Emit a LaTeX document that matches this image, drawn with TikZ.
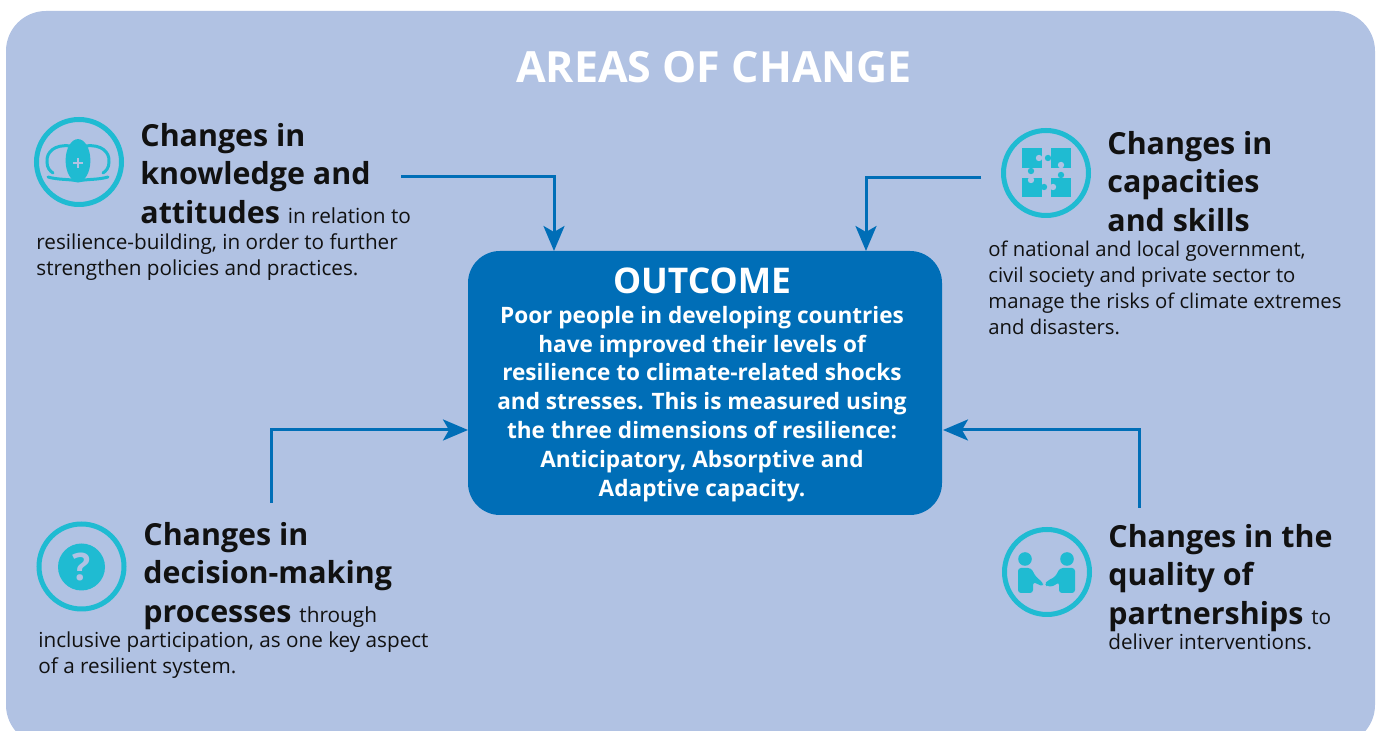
\documentclass[tikz,border=0pt]{standalone}
\usepackage{fontspec}
\setmainfont{Open Sans}
\usepackage{color}
\usetikzlibrary{calc}
\usetikzlibrary{arrows.meta}
\definecolor{panelblue}{HTML}{B1C2E3}
\definecolor{boxblue}{HTML}{006EB7}
\definecolor{icon}{HTML}{1FBBD2}
\definecolor{inktext}{HTML}{111111}
\tikzset{
	head/.style={anchor=north west, inner sep=0pt, align=left, text=inktext, font=\fontsize{15.2}{19.2}\selectfont\bfseries},
	body/.style={anchor=north west, inner sep=0pt, align=left, text=inktext, font=\fontsize{10.35}{13}\selectfont},
	ring/.style={circle, draw=icon, line width=2.5pt, minimum size=42.5pt, inner sep=0pt},
	link/.style={draw=boxblue, line width=1.5pt, -{Stealth[length=12.5pt, width=10.5pt, inset=3pt]}},
}
\newcommand{\runin}[1]{{\fontsize{10.4}{13}\selectfont\mdseries #1}}
\begin{document}
\begin{tikzpicture}[x=0.5pt,y=-0.5pt]
	\clip (0,0) rectangle (1378,731);
	\fill[panelblue, rounded corners=20pt] (6,11) rectangle (1375,745);

	\node[text=white, font=\fontsize{21.5}{24}\selectfont\bfseries] (title) at (714,67) {AREAS OF CHANGE};

	% outcome box
	\node[fill=boxblue, rounded corners=16pt, minimum width=237pt, minimum height=132pt, inner sep=0pt] (outcome) at (705,383) {};
	\node[text=white, font=\fontsize{17.7}{20}\selectfont\bfseries] (outtitle) at (702,281) {OUTCOME};
	\node[text=white, align=center, font=\fontsize{11.3}{14.4}\selectfont\bfseries, anchor=north] (outtext) at (702,299) {Poor people in developing countries\\have improved their levels of\\resilience to climate-related shocks\\and stresses. This is measured using\\the three dimensions of resilience:\\Anticipatory, Absorptive and\\Adaptive capacity.};

	% text blocks
	\node[head] (know) at (140,123) {Changes in\\knowledge and\\attitudes \runin{in relation to}};
	\node[body] (knowtext) at (36,233) {resilience-building, in order to further\\strengthen policies and practices.};
	\node[head] (skill) at (1107,131) {Changes in\\capacities\\and skills};
	\node[body, font=\fontsize{10.15}{13}\selectfont] (skilltext) at (988,241) {of national and local government,\\civil society and private sector to\\manage the risks of climate extremes\\and disasters.};
	\node[head] (decide) at (143,522) {Changes in\\decision-making\\processes \runin{through}};
	\node[body] (decidetext) at (38,631) {inclusive participation, as one key aspect\\of a resilient system.};
	\node[head] (partner) at (1108,524) {Changes in the\\quality of\\partnerships \runin{to}};
	\node[body] (partnertext) at (1108,633) {deliver interventions.};

	% arrows
	\coordinate (a1) at (401,177);
	\coordinate (a2) at (981,178);
	\coordinate (a3) at (271,503);
	\coordinate (a4) at (1139,508);
	\coordinate (e1) at (554,251);
	\coordinate (e2) at (866,251);
	\coordinate (e3) at (468,430);
	\coordinate (e4) at (943,430);
	\draw[link] (a1) -| (e1);
	\draw[link] (a2) -| (e2);
	\draw[link] (a3) |- (e3);
	\draw[link] (a4) |- (e4);

	% icon knowledge
	\node[ring] (ring1) at (79,162) {};
	\fill[icon] (78,160.5) ellipse (6.2pt and 10.7pt);
	\draw[icon, line width=1.5pt, line cap=round] (70,146) .. controls (55,144) and (46,152) .. (47,162) .. controls (47,168) and (50,171) .. (53,173);
	\draw[icon, line width=1.5pt, line cap=round] (86,146) .. controls (101,144) and (110,152) .. (109,162) .. controls (109,168) and (106,171) .. (103,173);
	\draw[icon, line width=1.5pt, line cap=round] (48,177) .. controls (58,180) and (70,179) .. (78,181) .. controls (86,179) and (98,180) .. (108,177);
	\draw[panelblue, line width=1.2pt] (73,163) -- (83,163) (78,158) -- (78,168);

	% icon puzzle
	\node[ring] (ring2) at (1046,173) {};
	\fill[icon] (1022,148) rectangle (1042,168);
	\fill[icon] (1051,148) rectangle (1071,168);
	\fill[icon] (1022,178) rectangle (1042,197);
	\fill[icon] (1051,178) rectangle (1071,197);
	\fill[icon] (1031,171) circle (1.6pt) (1048,158) circle (1.6pt) (1044,187) circle (1.6pt) (1061,175) circle (1.6pt);
	\fill[panelblue] (1039,158) circle (1.6pt) (1061,165) circle (1.6pt) (1031,180) circle (1.6pt) (1053,187) circle (1.6pt);
	\fill[panelblue] (1040,156.5) rectangle (1043,159.5) (1059.5,166) rectangle (1062.5,169) (1029.5,177) rectangle (1032.5,180) (1050,185.5) rectangle (1053,188.5);

	% icon question
	\node[ring] (ring3) at (81.5,566.5) {};
	\node[circle, fill=icon, minimum size=23.5pt, inner sep=0pt, text=panelblue, font=\fontsize{19}{19}\selectfont\bfseries] (quest) at (81.5,567) {?};

	% icon handshake
	\node[ring] (ring4) at (1047,572) {};
	\fill[icon] (1025,559) circle (3.4pt) (1067,559) circle (3.4pt);
	\fill[icon, rounded corners=1.5pt] (1018,593) -- (1018,568) -- (1031,568) -- (1036,577) -- (1043,582.5) -- (1043,586.5) -- (1033,582) -- (1033,593) -- cycle;
	\fill[icon, rounded corners=1.5pt] (1075,593) -- (1075,568) -- (1060,568) -- (1055,577) -- (1047,581) -- (1045,584) -- (1047,586.5) -- (1053,586.5) -- (1059,582) -- (1059,593) -- cycle;
\end{tikzpicture}
\end{document}
